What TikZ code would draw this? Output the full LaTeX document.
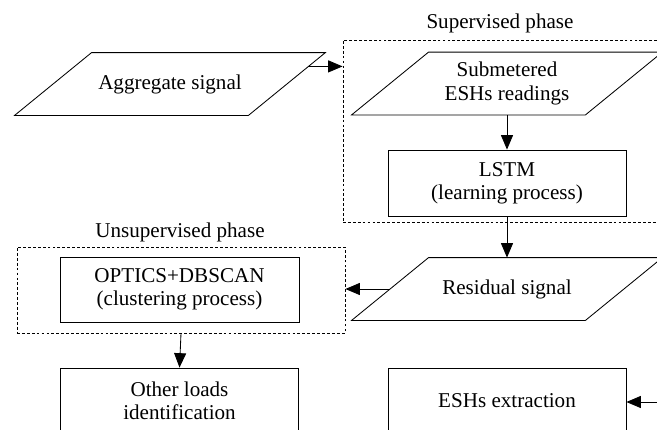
\documentclass[tikz,border=0pt]{standalone}
\usepackage{fontspec}
\setmainfont{Liberation Serif}
\usetikzlibrary{arrows.meta,positioning,calc}
\tikzset{
  io/.style={minimum width=5.825cm,minimum height=1.55cm,align=center,inner sep=2pt},
  proc/.style={draw,minimum width=5.95cm,minimum height=1.65cm,align=center},
  phase/.style={draw,dash pattern=on 2pt off 1.5pt},
  arr/.style={-{Triangle[length=0.36cm,width=0.3cm]},line width=0.6pt},
}
% slanted frame round an io node, with its corners named
\newcommand\ioframe[1]{%
  \coordinate (#1-bl) at ($(#1.south west)+(-0.9625,0)$);
  \coordinate (#1-tl) at ($(#1.north west)+(0.9625,0)$);
  \coordinate (#1-tr) at ($(#1.north east)+(0.9625,0)$);
  \coordinate (#1-br) at ($(#1.south east)+(-0.9625,0)$);
  \draw (#1-bl) -- (#1-tl) -- (#1-tr) -- (#1-br) -- cycle;}
\begin{document}
\begin{tikzpicture}[font=\fontsize{15}{16.5}\selectfont,line width=0.6pt]
\useasboundingbox (0,0) rectangle (16.425,10.725);
\clip (0,0) rectangle (16.425,10.725);
% supervised part
\node[io] (agg) at (4.25,8.625) {Aggregate signal};
\ioframe{agg}
\node[phase,minimum width=8.6cm,minimum height=4.55cm] (sup) at (12.875,7.45) {};
\node (suplab) at (12.5,10.15) {Supervised phase};
\node[io] (sub) at (12.675,8.6375) {Submetered\\ESHs readings};
\ioframe{sub}
\node[proc] (lstm) at (12.675,6.15) {LSTM\\(learning process)};
\node[io] (res) at (12.675,3.5) {Residual signal};
\ioframe{res}
% unsupervised part
\node[phase,minimum width=8.2cm,minimum height=2.15cm] (unsup) at (4.525,3.475) {};
\node (unsuplab) at (4.5,4.925) {Unsupervised phase};
\node[proc,minimum width=5.975cm,minimum height=1.625cm] (optics) at (4.4875,3.4875) {OPTICS+DBSCAN\\(clustering process)};
\node[proc] (other) at (4.4875,0.7) {Other loads\\identification};
\node[proc] (esh) at (12.675,0.7) {ESHs extraction};
\coordinate (eshin) at (16.6,0.675);
% arrows
\coordinate (aggout) at ($(agg-tr)!0.22!(agg-br)$);
\draw[arr] (aggout) -- (aggout -| sup.west);
\draw[arr] (sub.south) -- (lstm.north);
\draw[arr] (lstm.south) -- (res.north);
\draw[arr] (res.west) -- (res.west -| unsup.east);
\draw[arr] (unsup.south) -- (other.north);
\draw[arr] (eshin) -- (eshin -| esh.east);
\end{tikzpicture}
\end{document}
